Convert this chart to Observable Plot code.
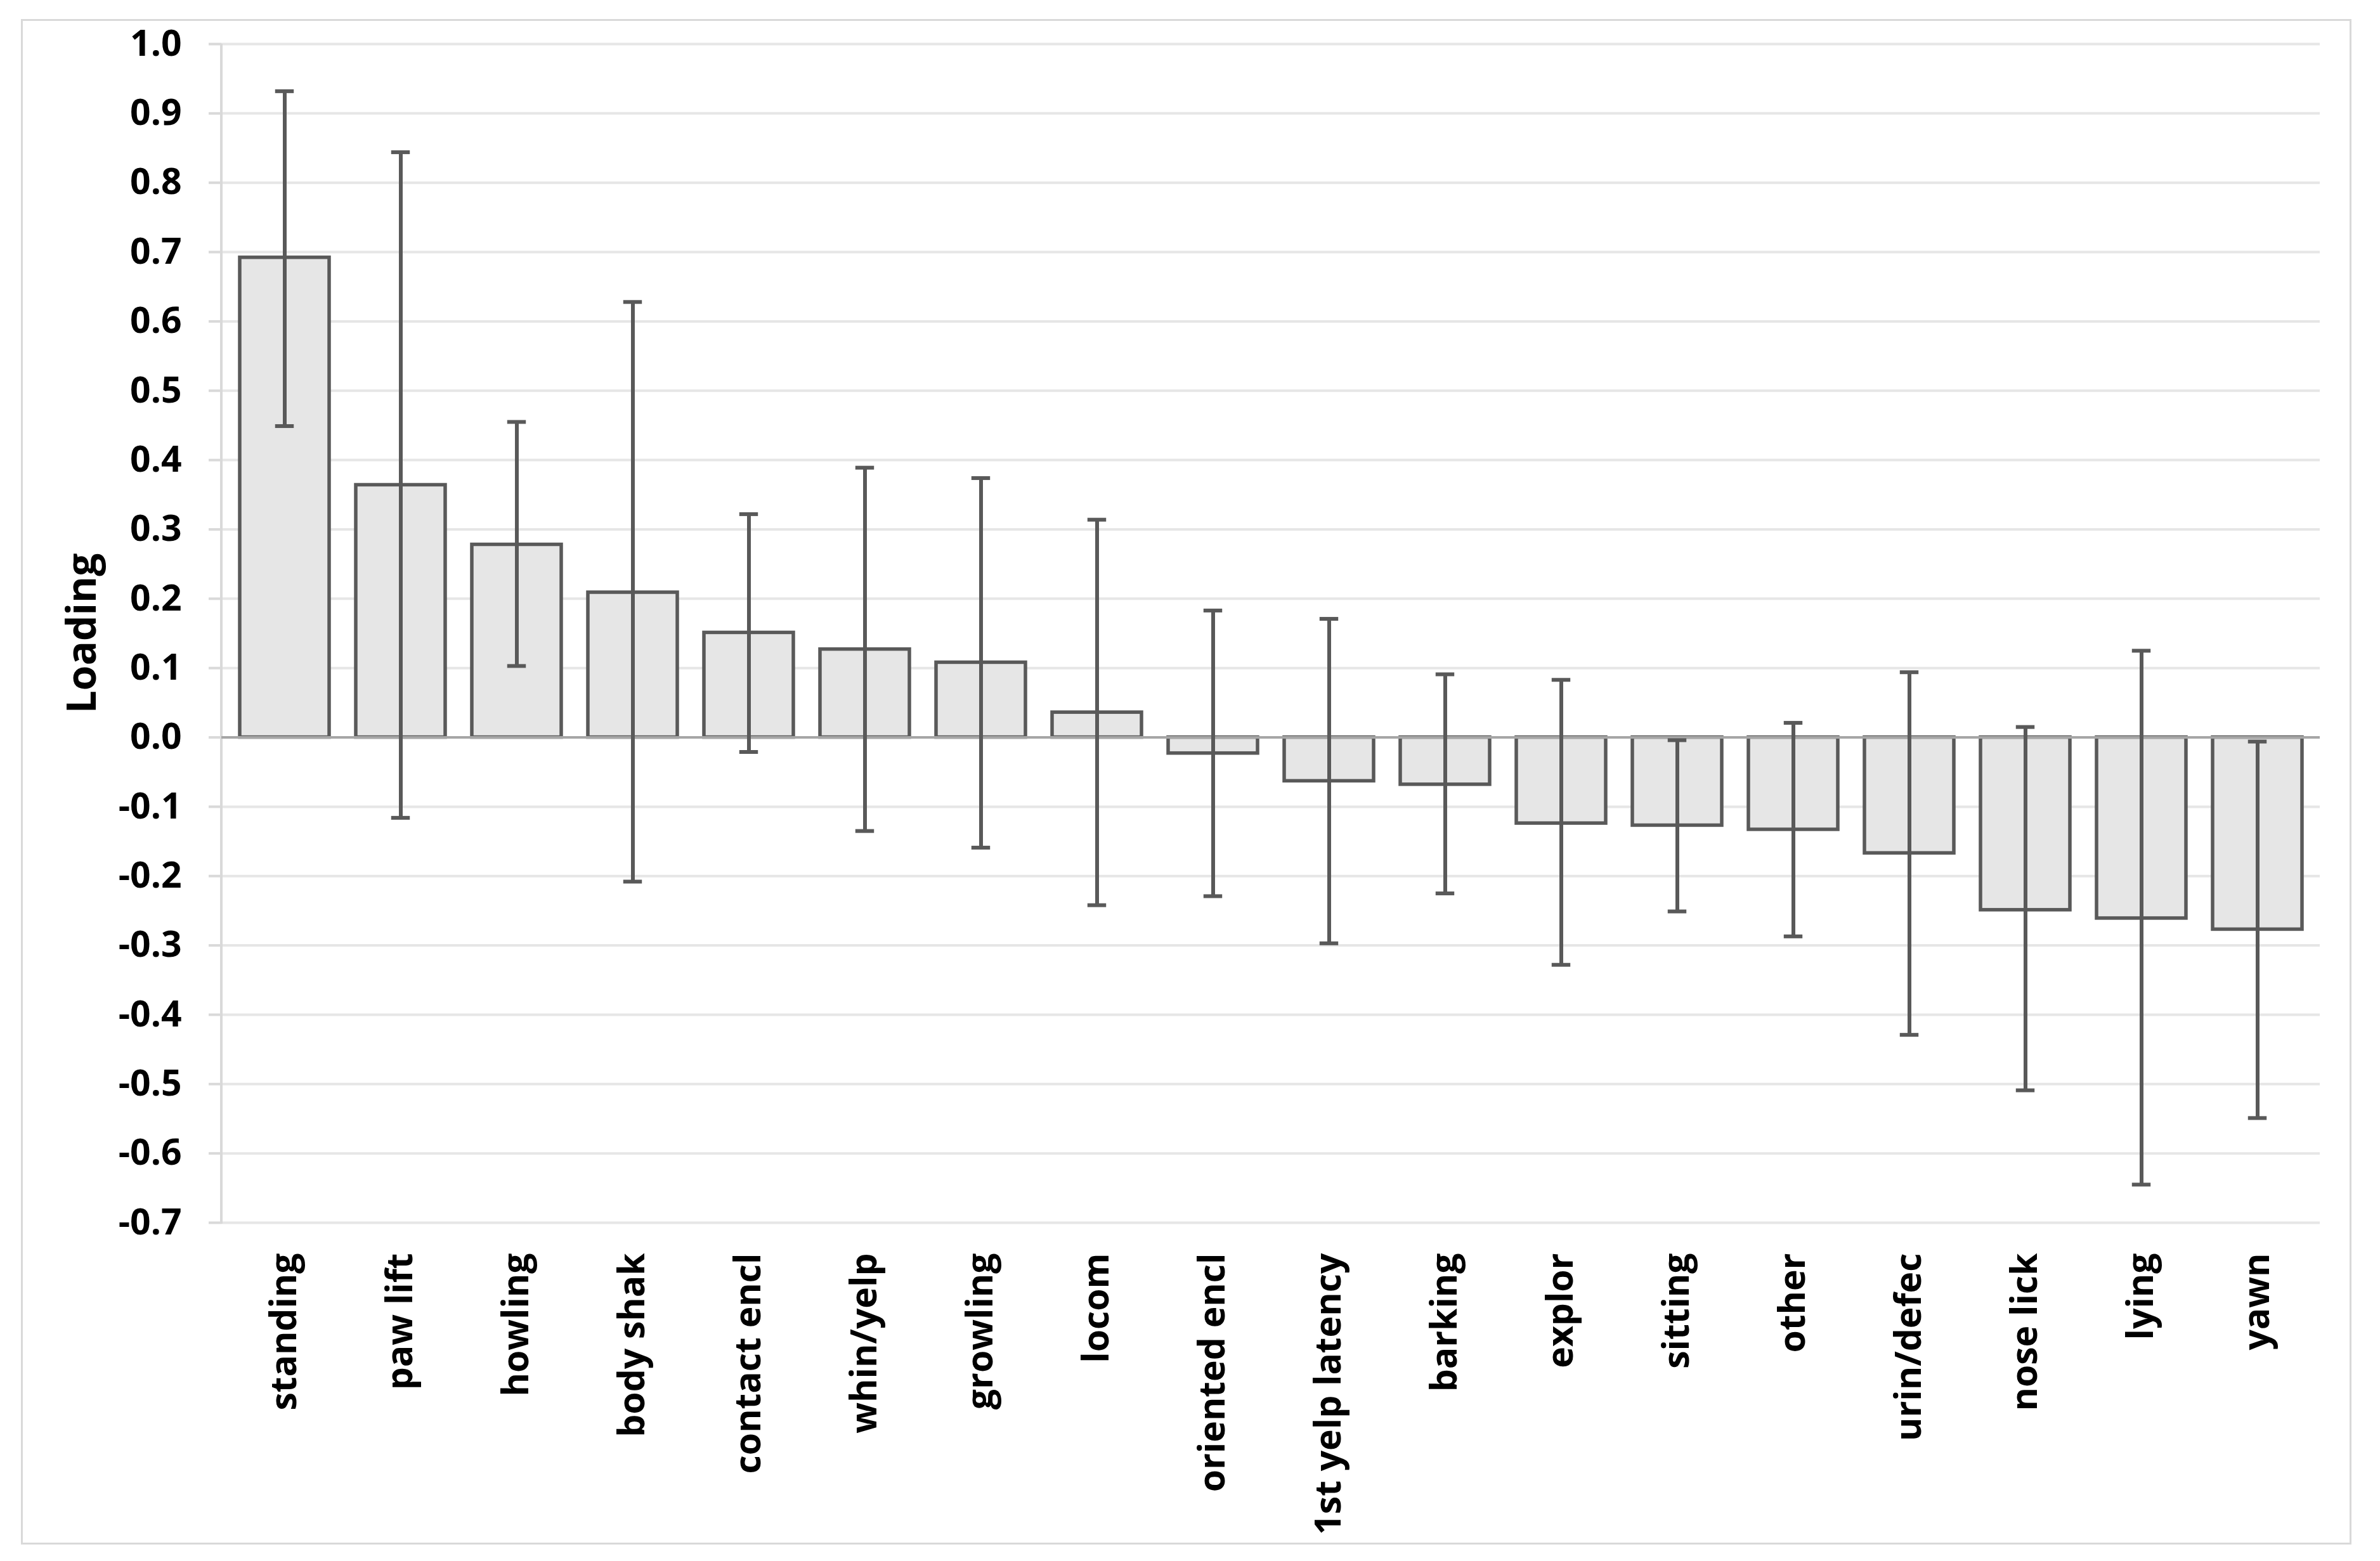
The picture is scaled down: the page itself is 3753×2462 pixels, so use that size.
<!DOCTYPE html>
<html>
<head>
<meta charset="utf-8">
<script src="https://cdn.jsdelivr.net/npm/d3@7"></script>
<script src="https://cdn.jsdelivr.net/npm/@observablehq/plot@0.6"></script>
<style>
  html, body { margin: 0; padding: 0; background: #fff; }
  #wrap { position: relative; width: 3753px; height: 2462px; }
  #border { position: absolute; left: 33px; top: 30px; width: 3675px; height: 2406px; border: 3px solid #d9d9d9; box-sizing: border-box; }
  #chart { position: absolute; left: 0; top: 0; }
  svg text { font-weight: bold; }
</style>
</head>
<body>
<div id="wrap"><div id="border"></div><div id="chart"></div></div>
<script>
const categories = ["standing", "paw lift", "howling", "body shak", "contact encl", "whin/yelp", "growling", "locom", "oriented encl", "1st yelp latency", "barking", "explor", "sitting", "other", "urin/defec", "nose lick", "lying", "yawn"];
const loadings   = [0.692, 0.364, 0.278, 0.209, 0.151, 0.127, 0.108, 0.036, -0.023, -0.063, -0.068, -0.124, -0.127, -0.133, -0.167, -0.249, -0.261, -0.277];
const upper      = [0.932, 0.844, 0.455, 0.628, 0.322, 0.389, 0.374, 0.314, 0.183, 0.171, 0.091, 0.083, -0.004, 0.021, 0.094, 0.015, 0.125, -0.006];
const lower      = [0.449, -0.116, 0.103, -0.208, -0.021, -0.135, -0.159, -0.242, -0.229, -0.297, -0.225, -0.328, -0.251, -0.287, -0.429, -0.509, -0.645, -0.549];
const yTicks     = [1.0, 0.9, 0.8, 0.7, 0.6, 0.5, 0.4, 0.3, 0.2, 0.1, 0.0, -0.1, -0.2, -0.3, -0.4, -0.5, -0.6, -0.7];
const yTitle     = "Loading";

const data = categories.map((name, i) => ({name, value: loadings[i], hi: upper[i], lo: lower[i]}));

const W = 3753, H = 2462;
const mL = 349, mR = 95, mT = 69, mB = 534;
const dark = "#595959";

// left axis line drawn along the frame's left edge
function leftAxisLine(index, scales, values, dims) {
  const line = document.createElementNS("http://www.w3.org/2000/svg", "line");
  line.setAttribute("x1", dims.marginLeft);
  line.setAttribute("x2", dims.marginLeft);
  line.setAttribute("y1", dims.height - dims.marginBottom + 2);
  line.setAttribute("y2", dims.marginTop);
  line.setAttribute("stroke", "#d9d9d9");
  line.setAttribute("stroke-width", 4);
  return line;
}

const step = (W - mL - mR) / categories.length;
const band = step * 0.77;
const capInset = (band - 30) / 2;

const chart = Plot.plot({
  width: W,
  height: H,
  marginLeft: mL,
  marginRight: mR,
  marginTop: mT,
  marginBottom: mB,
  style: {fontFamily: "'Open Sans', 'Noto Sans', sans-serif", background: "transparent", color: "#000"},
  x: {domain: categories, paddingInner: 0.23, paddingOuter: 0.115, label: null},
  y: {domain: [-0.7, 1.0], label: null},
  marks: [
    Plot.ruleY(yTicks, {stroke: "#e6e6e6", strokeWidth: 4}),
    Plot.axisY({ticks: yTicks, tickFormat: d => d.toFixed(1), tickSize: 20, tickPadding: 43, fontSize: 57, fontWeight: "bold", stroke: "#d9d9d9", strokeWidth: 4, fill: "#000", label: null}),
    Plot.axisX({tickSize: 0, tickPadding: 48, tickRotate: -90, fontSize: 57, fontWeight: "bold", fill: "#000", label: null}),
    leftAxisLine,
    Plot.barY(data, {x: "name", y: "value", fill: "#e6e6e6", stroke: dark, strokeWidth: 5.5, inset: 0}),
    Plot.ruleY([0], {stroke: "#a6a6a6", strokeWidth: 4}),
    Plot.ruleX(data, {x: "name", y1: "lo", y2: "hi", stroke: dark, strokeWidth: 6}),
    Plot.tickY(data, {x: "name", y: "hi", stroke: dark, strokeWidth: 6, insetLeft: capInset, insetRight: capInset}),
    Plot.tickY(data, {x: "name", y: "lo", stroke: dark, strokeWidth: 6, insetLeft: capInset, insetRight: capInset}),
    Plot.text([yTitle], {frameAnchor: "left", textAnchor: "middle", dx: -219, rotate: -90, fontSize: 64, fontWeight: "bold", fill: "#000"})
  ]
});
document.getElementById("chart").appendChild(chart);
</script>
</body>
</html>
